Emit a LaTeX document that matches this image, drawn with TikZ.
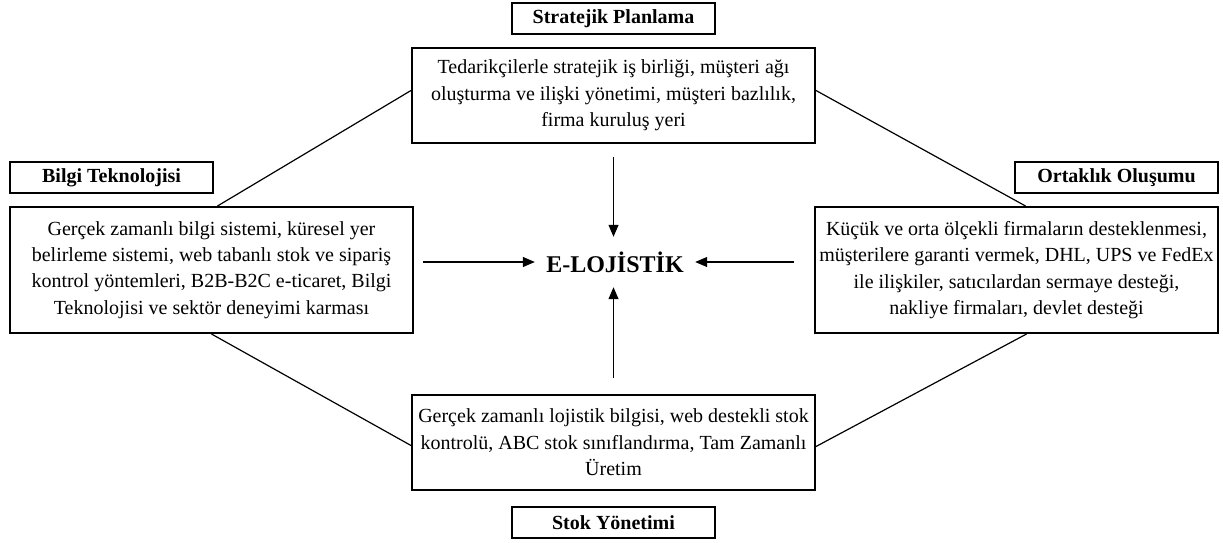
\documentclass[tikz,border=0pt]{standalone}
\usepackage{fontspec}
\setmainfont{Liberation Serif}
\usetikzlibrary{positioning,arrows.meta}

\begin{document}
\begin{tikzpicture}[
  x=1pt, y=-1pt,
  >={Triangle[length=12pt,width=10pt]},
  node distance=12pt,
  infobox/.style={
    rectangle, draw, line width=2pt, align=center,
    inner sep=3pt, minimum width=403pt,
    font=\fontsize{20}{26.4}\selectfont
  },
  titlebox/.style={
    rectangle, draw, line width=2pt, inner sep=2pt,
    minimum width=203pt, minimum height=31pt,
    font=\fontsize{20}{24}\selectfont\bfseries
  },
  link/.style={line width=1.2pt},
  arrow/.style={->, line width=1.2pt}
]
\useasboundingbox (0,0) rectangle (1223,543);

% centre
\node (core) [inner sep=0pt, minimum width=160pt, minimum height=50pt,
  font=\fontsize{24}{28}\selectfont\bfseries] at (615,262) {E-LOJİSTİK};

% four boxes
\node (plan) [infobox, minimum height=95pt] at (613.5,95.5)
  {Tedarikçilerle stratejik iş birliği, müşteri ağı\\
   oluşturma ve ilişki yönetimi, müşteri bazlılık,\\
   firma kuruluş yeri};
\node (it) [infobox, minimum height=126pt] at (211.5,270)
  {Gerçek zamanlı bilgi sistemi, küresel yer\\
   belirleme sistemi, web tabanlı stok ve sipariş\\
   kontrol yöntemleri, B2B-B2C e-ticaret, Bilgi\\
   Teknolojisi ve sektör deneyimi karması};
\node (ortak) [infobox, minimum height=126pt] at (1016.5,270)
  {Küçük ve orta ölçekli firmaların desteklenmesi,\\
   müşterilere garanti vermek, DHL, UPS ve FedEx\\
   ile ilişkiler, satıcılardan sermaye desteği,\\
   nakliye firmaları, devlet desteği};
\node (stok) [infobox, minimum height=95pt] at (613.5,442.5)
  {Gerçek zamanlı lojistik bilgisi, web destekli stok\\
   kontrolü, ABC stok sınıflandırma, Tam Zamanlı\\
   Üretim};

% titles
\node (planT) [titlebox, above=of plan] {Stratejik Planlama};
\node (itT) [titlebox, above=of it.north west, anchor=south west] {Bilgi Teknolojisi};
\node (ortakT) [titlebox, above=of ortak.north east, anchor=south east] {Ortaklık Oluşumu};
\node (stokT) [titlebox, below=15pt of stok] {Stok Yönetimi};

% arrows into the centre
\draw[arrow, shorten <=13pt] (plan.south) -- (plan.south |- core.north);
\draw[arrow, shorten <=16pt] (stok.north) -- (stok.north |- core.south);
\draw[arrow, shorten <=9pt] (core.west -| it.east) -- (core.west);
\draw[arrow, shorten <=20pt] (core.east -| ortak.west) -- (core.east);

% diamond links
\draw[link] ([xshift=6pt]it.north) -- ([yshift=5pt]plan.west);
\draw[link] ([xshift=9pt]ortak.north) -- ([yshift=5pt]plan.east);
\draw[link] (it.south) -- ([yshift=-3pt]stok.west);
\draw[link] ([xshift=10pt]ortak.south) -- ([yshift=-4pt]stok.east);
\end{tikzpicture}
\end{document}
